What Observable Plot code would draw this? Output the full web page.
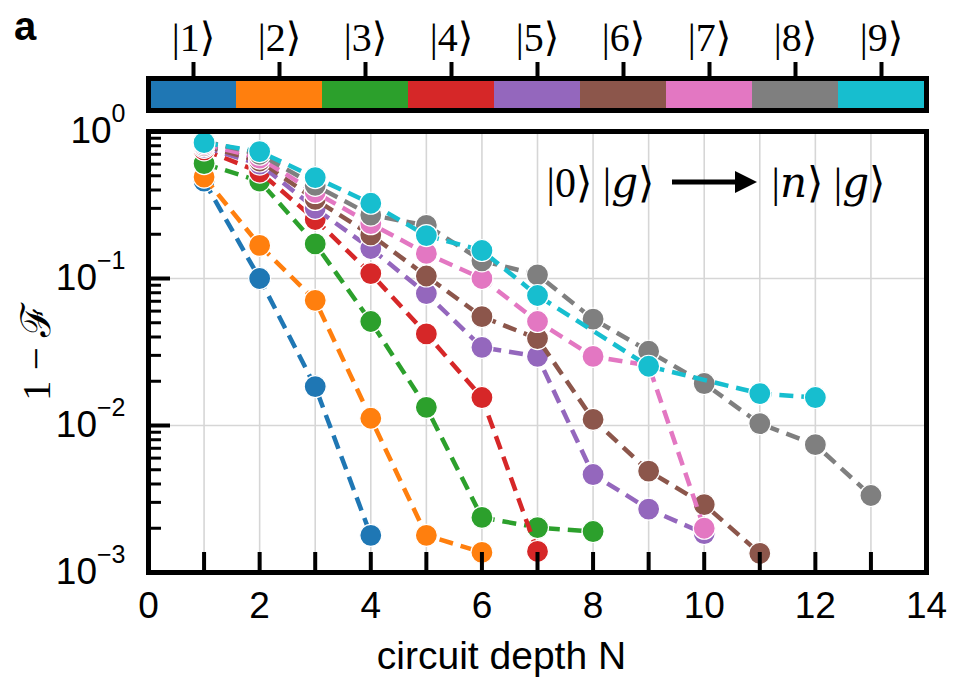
<!DOCTYPE html>
<html><head><meta charset="utf-8">
<script src="https://cdn.jsdelivr.net/npm/d3@7"></script>
<script src="https://cdn.jsdelivr.net/npm/@observablehq/plot@0.6"></script>
<style>
body{margin:0;background:#fff;}
#fig{position:relative;width:953px;height:681px;overflow:hidden;}
#fig svg{display:block;}
#panel{position:absolute;left:14px;top:4px;font:bold 40px/44px 'Liberation Sans',Arial,sans-serif;}
</style></head><body><div id="fig"><div id="panel">a</div></div>
<script>
// ---- data ----
const states = ["|1⟩","|2⟩","|3⟩","|4⟩","|5⟩","|6⟩","|7⟩","|8⟩","|9⟩"];
const palette = ["#1f77b4","#ff7f0e","#2ca02c","#d62728","#9467bd","#8c564b","#e377c2","#7f7f7f","#17becf"];

const depth1 = [1,2,3,4];
const infid1 = [0.46,0.10,0.0184,0.00179];
const depth2 = [1,2,3,4,5,6];
const infid2 = [0.49,0.168,0.071,0.0112,0.00179,0.00137];
const depth3 = [1,2,3,4,5,6,7,8];
const infid3 = [0.605,0.46,0.172,0.051,0.0133,0.00237,0.00202,0.0019];
const depth4 = [1,2,3,4,5,6,7];
const infid4 = [0.75,0.53,0.252,0.108,0.042,0.0155,0.00139];
const depth5 = [1,2,3,4,5,6,7,8,9,10];
const infid5 = [0.78,0.60,0.30,0.16,0.079,0.034,0.0295,0.00464,0.0027,0.00184];
const depth6 = [1,2,3,4,5,6,7,8,9,10,11];
const infid6 = [0.80,0.63,0.345,0.198,0.104,0.055,0.039,0.011,0.0049,0.0029,0.00135];
const depth7 = [1,2,3,4,5,6,7,8,9,10];
const infid7 = [0.82,0.66,0.385,0.236,0.148,0.10,0.051,0.0295,0.0256,0.0020];
const depth8 = [1,2,3,4,5,6,7,8,9,10,11,12,13];
const infid8 = [0.86,0.70,0.43,0.27,0.23,0.132,0.106,0.053,0.032,0.0193,0.0103,0.0074,0.00334];
const depth9 = [1,2,3,4,5,6,7,9,11,12];
const infid9 = [0.84,0.73,0.486,0.325,0.196,0.155,0.0766,0.0253,0.0165,0.0155];

const xTickLabels = [0,2,4,6,8,10,12,14];
const xTickMarks = [0,1,2,3,4,5,6,7,8,9,10,11,12,13,14];
const xGrid = [1,2,3,4,5,6,7,8,9,10,11,12,13];
const yDecades = [1,0.1,0.01,0.001];
const yExponents = ["0","−1","−2","−3"];
const yGrid = [0.1,0.01];

// ---- layout ----
const W = 953, ML = 148, MR = 27;
const serif = "'Liberation Serif','DejaVu Serif',serif";
const sans = "'Liberation Sans',Arial,sans-serif";

const depths = [depth1,depth2,depth3,depth4,depth5,depth6,depth7,depth8,depth9];
const infids = [infid1,infid2,infid3,infid4,infid5,infid6,infid7,infid8,infid9];

// colorbar
const cbar = Plot.plot({
  width: W, height: 115, marginLeft: ML, marginRight: MR, marginTop: 78, marginBottom: 5,
  style: {fontFamily: serif, fontSize: "40px", background: "white", overflow: "visible"},
  x: {type: "band", domain: states, padding: 0},
  color: {domain: states, range: palette},
  marks: [
    Plot.cell(states, {x: d => d, fill: d => d, inset: 0}),
    Plot.axisX({anchor: "top", tickSize: 17, tickPadding: 11, strokeWidth: 4, label: null, fontSize: 40}),
    Plot.frame({stroke: "black", strokeWidth: 5})
  ]
});

// main plot
const MH = 566, MT = 16, MB = 109;
const FW = W - ML - MR, FH = MH - MT - MB;
const tickFs = 37, supFs = 25;

const marks = [
  Plot.gridX(xGrid, {stroke: "#d6d6d6", strokeOpacity: 1, strokeWidth: 1.6}),
  Plot.gridY(yGrid, {stroke: "#d6d6d6", strokeOpacity: 1, strokeWidth: 1.6}),
];

const dash = "14,8";
depths.forEach((dep, i) => {
  const rows = dep.map((n, j) => ({n, v: infids[i][j], s: states[i]}));
  marks.push(Plot.line(rows, {x: "n", y: "v", stroke: palette[i], strokeWidth: 4.5, strokeDasharray: dash, strokeLinecap: "butt"}));
  marks.push(Plot.dot(rows, {x: "n", y: "v", r: 11, fill: palette[i], stroke: "white", strokeWidth: 1.2}));
});

// inward ticks
const yMinor = [];
[0.001, 0.01, 0.1].forEach(d => { for (let k = 2; k <= 9; k++) yMinor.push(d * k); });
marks.push(Plot.ruleX(xTickMarks, {x: d => d, stroke: "black", strokeWidth: 4, insetTop: FH - 20}));
marks.push(Plot.ruleY(yDecades, {y: d => d, stroke: "black", strokeWidth: 4, insetRight: FW - 22}));
marks.push(Plot.ruleY(yMinor, {y: d => d, stroke: "black", strokeWidth: 3, insetRight: FW - 13}));

// x tick labels
marks.push(Plot.axisX(xTickLabels, {tickSize: 0, tickPadding: 19, fontSize: tickFs, label: null, tickFormat: d => String(d)}));

// y tick labels (10^k)
yDecades.forEach((d, i) => {
  const e = yExponents[i];
  const expW = (e.length === 1 ? 0.556 : 1.14) * supFs;
  marks.push(Plot.text([d], {y: v => v, frameAnchor: "left", text: () => "10", textAnchor: "end", dx: -23 - expW, fontSize: tickFs, lineAnchor: "middle"}));
  marks.push(Plot.text([d], {y: v => v, frameAnchor: "left", text: () => e, textAnchor: "end", dx: -23, dy: -18, fontSize: supFs, lineAnchor: "middle"}));
});

// axis labels
marks.push(Plot.text(["1 − ℱ"], {text: d => d, frameAnchor: "left", textAnchor: "middle", dx: -112, rotate: -90, fontSize: 41, fontFamily: serif, lineAnchor: "middle"}));
marks.push(Plot.text(["circuit depth N"], {text: d => d, frameAnchor: "bottom", textAnchor: "middle", dx: -36, dy: 84, fontSize: 39, lineAnchor: "middle"}));

// annotation
marks.push(Plot.text(["|0⟩ |𝑔⟩"], {text: d => d, frameAnchor: "top-left", textAnchor: "middle", dx: 452, dy: 52, fontSize: 42, fontFamily: serif, lineAnchor: "middle"}));
marks.push(Plot.text(["|𝑛⟩ |𝑔⟩"], {text: d => d, frameAnchor: "top-left", textAnchor: "middle", dx: 680, dy: 52, fontSize: 42, fontFamily: serif, lineAnchor: "middle"}));
marks.push((index, scales, values, dims) => {
  const g = d3.create("svg:g");
  const x1 = dims.marginLeft + 524, x2 = dims.marginLeft + 609, y = dims.marginTop + 51;
  g.append("line").attr("x1", x1).attr("x2", x2 - 16).attr("y1", y).attr("y2", y).attr("stroke", "black").attr("stroke-width", 5);
  g.append("path").attr("d", `M${x2},${y}L${x2 - 22},${y - 11}L${x2 - 22},${y + 11}Z`).attr("fill", "black");
  return g.node();
});

marks.push(Plot.frame({stroke: "black", strokeWidth: 5}));

const main = Plot.plot({
  width: W, height: MH, marginLeft: ML, marginRight: MR, marginTop: MT, marginBottom: MB,
  style: {fontFamily: sans, fontSize: "37px", background: "white", overflow: "visible", color: "black"},
  x: {domain: [0, 14]},
  y: {type: "log", domain: [0.001, 1], axis: null},
  marks
});

const fig = document.getElementById("fig");
fig.appendChild(cbar);
fig.appendChild(main);
</script>
</body></html>
